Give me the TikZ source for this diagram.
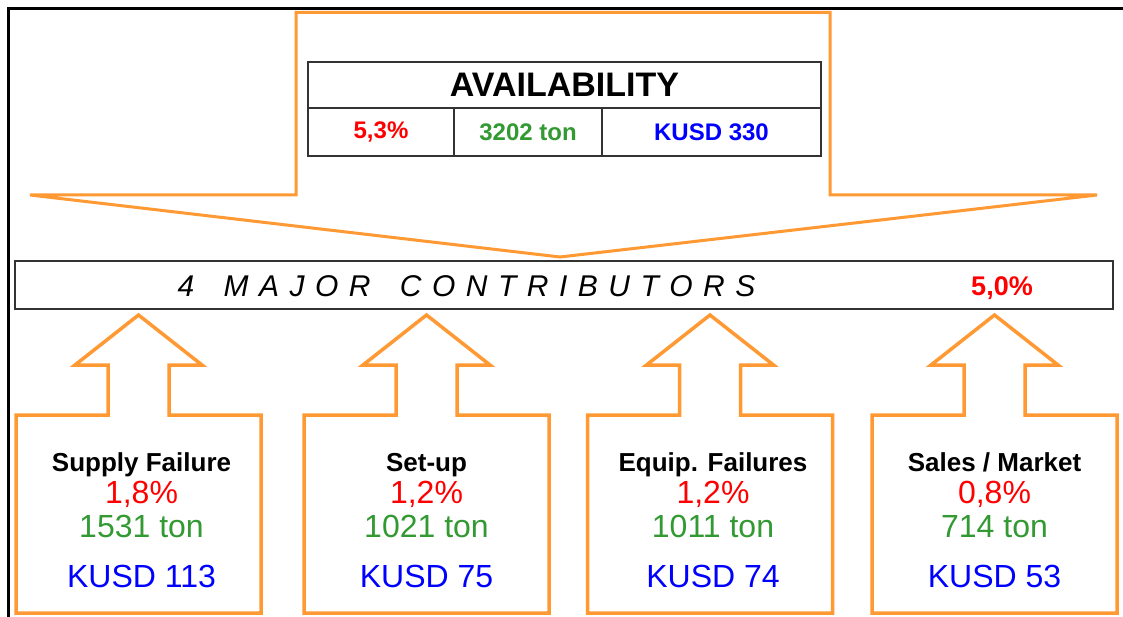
\documentclass[tikz,border=0pt]{standalone}
\usepackage{fontspec}
\setmainfont{Liberation Sans}
\usetikzlibrary{positioning,calc}

\definecolor{arroworange}{RGB}{255,153,51}
\definecolor{tongreen}{RGB}{51,153,51}
\makeatletter
\newcommand\spreadletters[2]{\@tfor\sl@ch:=#2\do{\sl@ch\hspace{#1}}}
\makeatother

\begin{document}
\begin{tikzpicture}[x=1pt, y=-1pt, line join=miter]
  \tikzstyle{outline}=[draw=arroworange, line width=3.5pt]
  \tikzstyle{cell}=[draw=black!80, line width=2pt, inner sep=0pt, outer sep=0pt, minimum height=48pt]
  \tikzstyle{rowtext}=[font=\fontsize{24}{24}\selectfont\bfseries]
  \tikzstyle{boxspace}=[inner sep=0pt, outer sep=0pt, minimum width=245pt, minimum height=198pt]
  \tikzstyle{cname}=[anchor=base, font=\fontsize{26}{26}\selectfont\bfseries]
  \tikzstyle{cpct}=[anchor=base, text=red, font=\fontsize{32}{32}\selectfont]
  \tikzstyle{cton}=[anchor=base, text=tongreen, font=\fontsize{32}{32}\selectfont]
  \tikzstyle{cusd}=[anchor=base, text=blue, font=\fontsize{32}{32}\selectfont]

  \useasboundingbox (0,0) rectangle (1123,617);
  \fill[white] (0,0) rectangle (1123,617);

  % frame
  \draw[line width=3pt] (8,617) -- (8,8.5) -- (1123,8.5);

  % availability table
  \node[cell, minimum width=513pt, minimum height=46pt, font=\fontsize{34}{34}\selectfont\bfseries] (avail) at (564.5,85) {AVAILABILITY};
  \node[cell, rowtext, minimum width=146pt, anchor=north west, text=red] (availpct) at (avail.south west) {5,3\%};
  \node[cell, rowtext, minimum width=148pt, right=0pt of availpct, text=tongreen] (availton) {3202 ton};
  \node[cell, rowtext, minimum width=219pt, right=0pt of availton, text=blue] (availusd) {KUSD 330};

  % contributors bar
  \node[cell, minimum width=1098pt, minimum height=48pt] (major) at (564,285) {};
  \node[anchor=base west, font=\fontsize{30}{30}\selectfont\itshape] (majortitle) at (174,297) {\spreadletters{10.5pt}{4~MAJOR~CONTRIBUTORS}};
  \node[anchor=base, text=red, font=\fontsize{27}{27}\selectfont\bfseries] (majorpct) at (1002,295) {5,0\%};

  % big arrow down
  \draw[outline, line width=3pt] (30,195) -- (296,195) -- (296,12.5) -- (830,12.5) -- (830,195) -- (1097,195) -- ($(major.north)+(-4,-4)$) -- cycle;

  % contributor boxes
  \node[boxspace] (sf) at (138.5,514) {};
  \node[boxspace] (su) at (426.5,514) {};
  \node[boxspace] (ef) at (710,514) {};
  \node[boxspace] (sm) at (994.5,514) {};

  \draw[outline] (sf.north west) -- ++(92,0) -- ++(0,-50) -- ++(-33,0) -- ++(63.5,-50) -- ++(63.5,50) -- ++(-33,0) -- ++(0,50) -- (sf.north east) -- (sf.south east) -- (sf.south west) -- cycle;
  \draw[outline] (su.north west) -- ++(92,0) -- ++(0,-50) -- ++(-33,0) -- ++(63.5,-50) -- ++(63.5,50) -- ++(-33,0) -- ++(0,50) -- (su.north east) -- (su.south east) -- (su.south west) -- cycle;
  \draw[outline] (ef.north west) -- ++(92,0) -- ++(0,-50) -- ++(-33,0) -- ++(63.5,-50) -- ++(63.5,50) -- ++(-33,0) -- ++(0,50) -- (ef.north east) -- (ef.south east) -- (ef.south west) -- cycle;
  \draw[outline] (sm.north west) -- ++(92,0) -- ++(0,-50) -- ++(-33,0) -- ++(63.5,-50) -- ++(63.5,50) -- ++(-33,0) -- ++(0,50) -- (sm.north east) -- (sm.south east) -- (sm.south west) -- cycle;

  \node[cname] (sfname) at ($(sf.north)+(3,56)$) {Supply Failure};
  \node[cpct] (sfpct) at ($(sf.north)+(3,88)$) {1,8\%};
  \node[cton] (sfton) at ($(sf.north)+(3,122)$) {1531 ton};
  \node[cusd] (sfusd) at ($(sf.north)+(3,172)$) {KUSD 113};

  \node[cname] (suname) at ($(su.north)+(0,56)$) {Set-up};
  \node[cpct] (supct) at ($(su.north)+(0,88)$) {1,2\%};
  \node[cton] (suton) at ($(su.north)+(0,122)$) {1021 ton};
  \node[cusd] (suusd) at ($(su.north)+(0,172)$) {KUSD 75};

  \node[cname] (efname) at ($(ef.north)+(3,56)$) {Equip. Failures};
  \node[cpct] (efpct) at ($(ef.north)+(3,88)$) {1,2\%};
  \node[cton] (efton) at ($(ef.north)+(3,122)$) {1011 ton};
  \node[cusd] (efusd) at ($(ef.north)+(3,172)$) {KUSD 74};

  \node[cname] (smname) at ($(sm.north)+(0,56)$) {Sales / Market};
  \node[cpct] (smpct) at ($(sm.north)+(0,88)$) {0,8\%};
  \node[cton] (smton) at ($(sm.north)+(0,122)$) {714 ton};
  \node[cusd] (smusd) at ($(sm.north)+(0,172)$) {KUSD 53};
\end{tikzpicture}
\end{document}
